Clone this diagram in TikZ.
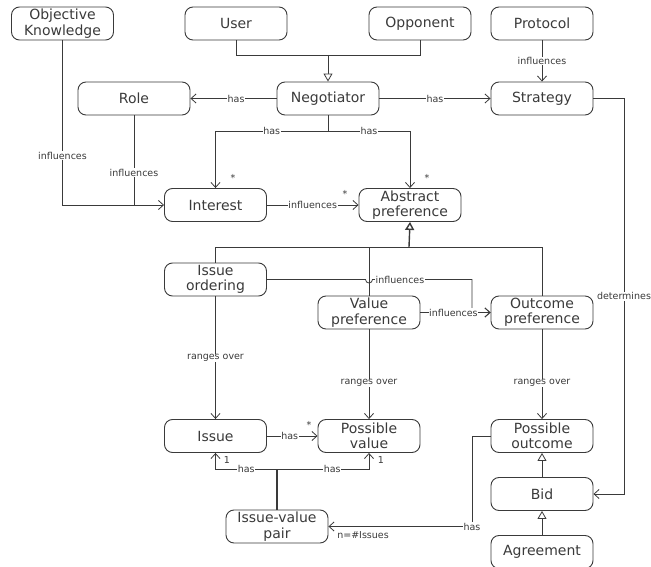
\documentclass[tikz,border=0pt]{standalone}
\usepackage{fontspec}
\setmainfont{DejaVu Sans}
\usetikzlibrary{arrows.meta}
\definecolor{ln}{HTML}{3A3A3A}
\tikzset{
  cls/.style={draw=ln, line width=0.9pt, rounded corners=8pt, minimum width=102pt, minimum height=33pt, inner sep=0.5pt, align=center, font=\fontsize{14}{15.5}\selectfont, text=ln},
  conn/.style={draw=ln, line width=0.8pt},
  assoc/.style={conn, -{Straight Barb[length=5pt,width=9pt]}},
  gen/.style={conn, -{Triangle[open,length=8pt,width=9pt,fill=white]}},
  lbl/.style={fill=white, inner sep=0.6pt, font=\fontsize{9.5}{10}\selectfont, text=ln},
  mult/.style={inner sep=0pt, font=\fontsize{9.5}{10}\selectfont, text=ln},
}
\begin{document}
\begin{tikzpicture}[x=1pt,y=-1pt]
\useasboundingbox (0,0) rectangle (651,567);
% nodes
\node[cls] (ok) at (62.5,23.5) {Objective\\Knowledge};
\node[cls] (user) at (236,23.5) {User};
\node[cls] (opp) at (420,23.5) {Opponent};
\node[cls] (prot) at (542,23.5) {Protocol};
\node[cls, minimum width=112pt] (role) at (134,98.5) {Role};
\node[cls] (neg) at (328,98.5) {Negotiator};
\node[cls] (strat) at (542,98.5) {Strategy};
\node[cls] (int) at (215.5,205) {Interest};
\node[cls] (abs) at (410,205) {Abstract\\preference};
\node[cls] (iord) at (215.5,279.5) {Issue\\ordering};
\node[cls] (vpref) at (369,312.5) {Value\\preference};
\node[cls] (opref) at (542,312.5) {Outcome\\preference};
\node[cls] (issue) at (215.5,436) {Issue};
\node[cls] (pval) at (369,436) {Possible\\value};
\node[cls] (pout) at (542,436) {Possible\\outcome};
\node[cls] (ivp) at (277,526.5) {Issue-value\\pair};
\node[cls] (bid) at (542,494) {Bid};
\node[cls] (agr) at (542,552) {Agreement};
% coordinates
\coordinate (nj) at (328,55);
\coordinate (nh) at (328,131);
\coordinate (gj) at (409,247);
\coordinate (sr) at (624,98.5);
\coordinate (ivpj) at (277,469);
% generalization to Negotiator
\draw[conn] (user.south) |- (nj);
\draw[conn] (opp.south) |- (nj);
\draw[gen] (nj) -- (neg.north);
% Protocol -> Strategy
\draw[assoc] (prot) -- node[lbl, pos=0.5] {influences} (strat);
% Negotiator -> Role / Strategy
\draw[assoc] (neg) -- node[lbl, pos=0.47] {has} (role);
\draw[assoc] (neg) -- node[lbl, pos=0.5] {has} (strat);
% Negotiator -> Interest / Abstract preference
\draw[conn] (neg.south) -- (nh);
\draw[assoc] (nh) -| node[lbl, pos=0.25] {has} (int.north);
\draw[assoc] (nh) -| node[lbl, pos=0.25] {has} (abs.north);
\node[mult] (m1) at (233,178) {*};
\node[mult] (m2) at (427,178) {*};
% influences to Interest
\draw[assoc] (ok.south) |- node[lbl, pos=0.35] {influences} (int.west);
\draw[conn] (role.south) -- node[lbl, pos=0.64] {influences} (role.south |- int.west);
% Interest -> Abstract preference
\draw[assoc] (int) -- node[lbl, pos=0.5] {influences} (abs);
\node[mult] (m3) at (345,194) {*};
% Strategy -> Bid
\draw[assoc] (strat.east) -- (sr) |- node[lbl, pos=0.25, fill=white] {determines} (bid.east);
% generalization to Abstract preference
\draw[conn] (iord.north) |- (opref.north |- gj) -- (opref.north);
\draw[conn] (vpref.north) -- (vpref.north |- gj);
\draw[gen, line width=1.4pt] (gj) -- (abs.south);
% Issue ordering -> Outcome preference (with hop)
\draw[conn] (iord.east) -- (365.5,279.5) arc[start angle=180, end angle=0, radius=3.5] -- (472,279.5) -- (472,312.5);
\draw[assoc] (472,312.5) -- (opref.west);
\node[lbl] (linf) at (400,279.5) {influences};
% Value preference -> Outcome preference
\draw[assoc] (vpref) -- node[lbl, pos=0.47] {influences} (opref);
% ranges over
\draw[assoc] (iord) -- node[lbl, pos=0.5] {ranges over} (issue);
\draw[assoc] (vpref) -- node[lbl, pos=0.6] {ranges over} (pval);
\draw[assoc] (opref) -- node[lbl, pos=0.6] {ranges over} (pout);
% Issue -> Possible value
\draw[assoc] (issue) -- node[lbl, pos=0.45] {has} (pval);
\node[mult] (m4) at (309,425) {*};
% Issue-value pair
\draw[conn, line width=1.2pt] (ivp.north) -- (ivpj);
\draw[assoc] (ivpj) -| node[lbl, pos=0.25] {has} (issue.south);
\draw[assoc] (ivpj) -| node[lbl, pos=0.3] {has} (pval.south);
\node[mult] (m5) at (227,460) {1};
\node[mult] (m6) at (381,460) {1};
% Possible outcome -> Issue-value pair
\draw[assoc] (pout.west) -- (472,436) |- node[lbl, pos=0.5] {has} (ivp.east);
\node[mult] (m7) at (363,535) {n=\#Issues};
% Bid / Agreement generalization
\draw[gen] (bid) -- (pout);
\draw[gen] (agr) -- (bid);
\end{tikzpicture}
\end{document}
